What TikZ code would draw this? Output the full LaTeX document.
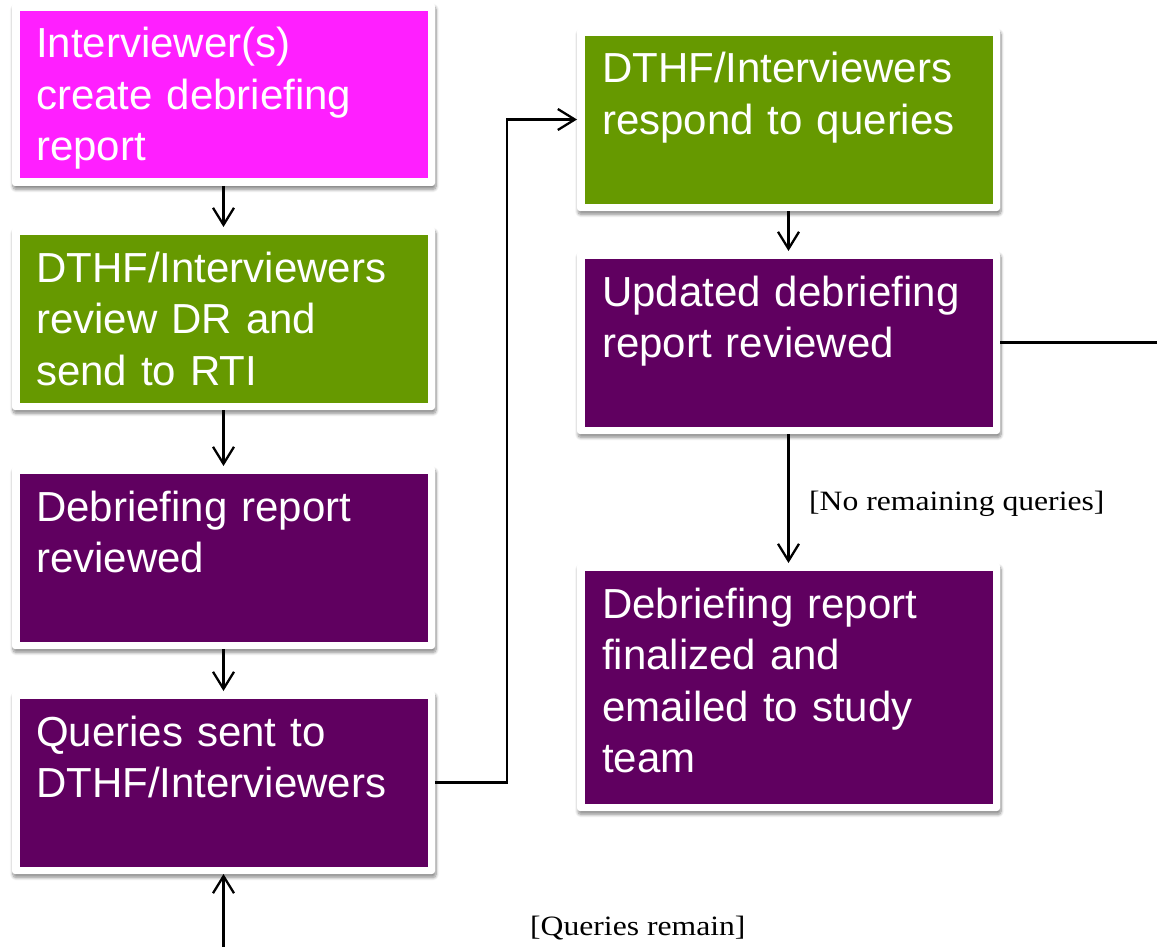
\documentclass[tikz,border=0pt]{standalone}
\usepackage{fontspec}
\usepackage{graphicx}
\setmainfont{Liberation Sans}
\newfontfamily\labelfont{Liberation Serif}
\usetikzlibrary{arrows.meta,shadows.blur}

\definecolor{stepMagenta}{HTML}{FF1FFF}
\definecolor{stepGreen}{HTML}{669900}
\definecolor{stepPurple}{HTML}{600060}

\tikzset{
  % white card with a soft shadow and a coloured panel inside
  card/.style={
    anchor=north west, inner sep=0pt, outer sep=0pt,
    minimum width=423pt, minimum height=183pt,
    fill=white, rounded corners=3pt,
    blur shadow={shadow xshift=1pt, shadow yshift=-3.5pt,
                 shadow blur radius=3pt, shadow blur steps=8,
                 shadow opacity=45},
    path picture={\fill[sharp corners,#1]
      ([xshift=8pt,yshift=-8pt]path picture bounding box.north west) rectangle
      ([xshift=-7.5pt,yshift=7.5pt]path picture bounding box.south east);}
  },
  cardtext/.style={
    anchor=base west, inner sep=0pt, text=white,
    text width=400pt, align=left,
    font=\fontsize{42}{51.5}\selectfont
  },
  flow/.style={line width=2.3pt, line join=miter,
    -{Straight Barb[length=17pt,width=21pt,line width=2.3pt]}},
  bareline/.style={line width=2.3pt},
  guard/.style={anchor=base west, inner sep=0pt,
    font=\labelfont\fontsize{28}{32}\selectfont}
}

\begin{document}
\begin{tikzpicture}[x=1pt,y=-1pt]
  \useasboundingbox (0,0) rectangle (1157,947);

  % left column
  \node[card=stepMagenta] (b1) at (12,3) {};
  \node[card=stepGreen]   (b2) at (12,227) {};
  \node[card=stepPurple]  (b3) at (12,466) {};
  \node[card=stepPurple]  (b4) at (12,691) {};

  % right column
  \node[card=stepGreen]   (b5) at (577,28) {};
  \node[card=stepPurple]  (b6) at (577,251) {};
  \node[card=stepPurple, minimum height=248pt] (b7) at (577,563) {};

  % texts
  \node[cardtext] (t1) at ([xshift=24pt,yshift=-55pt]b1.north west)
    {Interviewer(s)\\create debriefing\\report};
  \node[cardtext] (t2) at ([xshift=24pt,yshift=-55pt]b2.north west)
    {DTHF/Interviewers\\review DR and\\send to RTI};
  \node[cardtext] (t3) at ([xshift=24pt,yshift=-55pt]b3.north west)
    {Debriefing report\\reviewed};
  \node[cardtext] (t4) at ([xshift=24pt,yshift=-55pt]b4.north west)
    {Queries sent to\\DTHF/Interviewers};
  \node[cardtext] (t5) at ([xshift=25pt,yshift=-55pt]b5.north west)
    {DTHF/Interviewers\\respond to queries};
  \node[cardtext] (t6) at ([xshift=25pt,yshift=-55pt]b6.north west)
    {Updated debriefing\\report reviewed};
  \node[cardtext] (t7) at ([xshift=25pt,yshift=-55pt]b7.north west)
    {Debriefing report\\finalized and\\emailed to study\\team};

  % guard labels
  \node[guard] (g1) at (809,510) {\scalebox{1.13}[1]{[No remaining queries]}};
  \node[guard] (g2) at (530,935) {\scalebox{1.13}[1]{[Queries remain]}};

  % loose ends of the loop
  \coordinate (loopout) at (1157,0 |- b6.east);
  \coordinate (loopin)  at (b4.south |- 0,947);

  % connectors
  \draw[flow] (b1) -- (b2);
  \draw[flow] (b2) -- (b3);
  \draw[flow] (b3) -- (b4);
  \draw[flow] (b4.east) -- ++(72,0) |- (b5.west);
  \draw[flow] (b5) -- (b6);
  \draw[flow] (b6) -- (b7);
  \draw[bareline] (b6.east) -- (loopout);
  \draw[flow] (loopin) -- (b4.south);
\end{tikzpicture}
\end{document}
